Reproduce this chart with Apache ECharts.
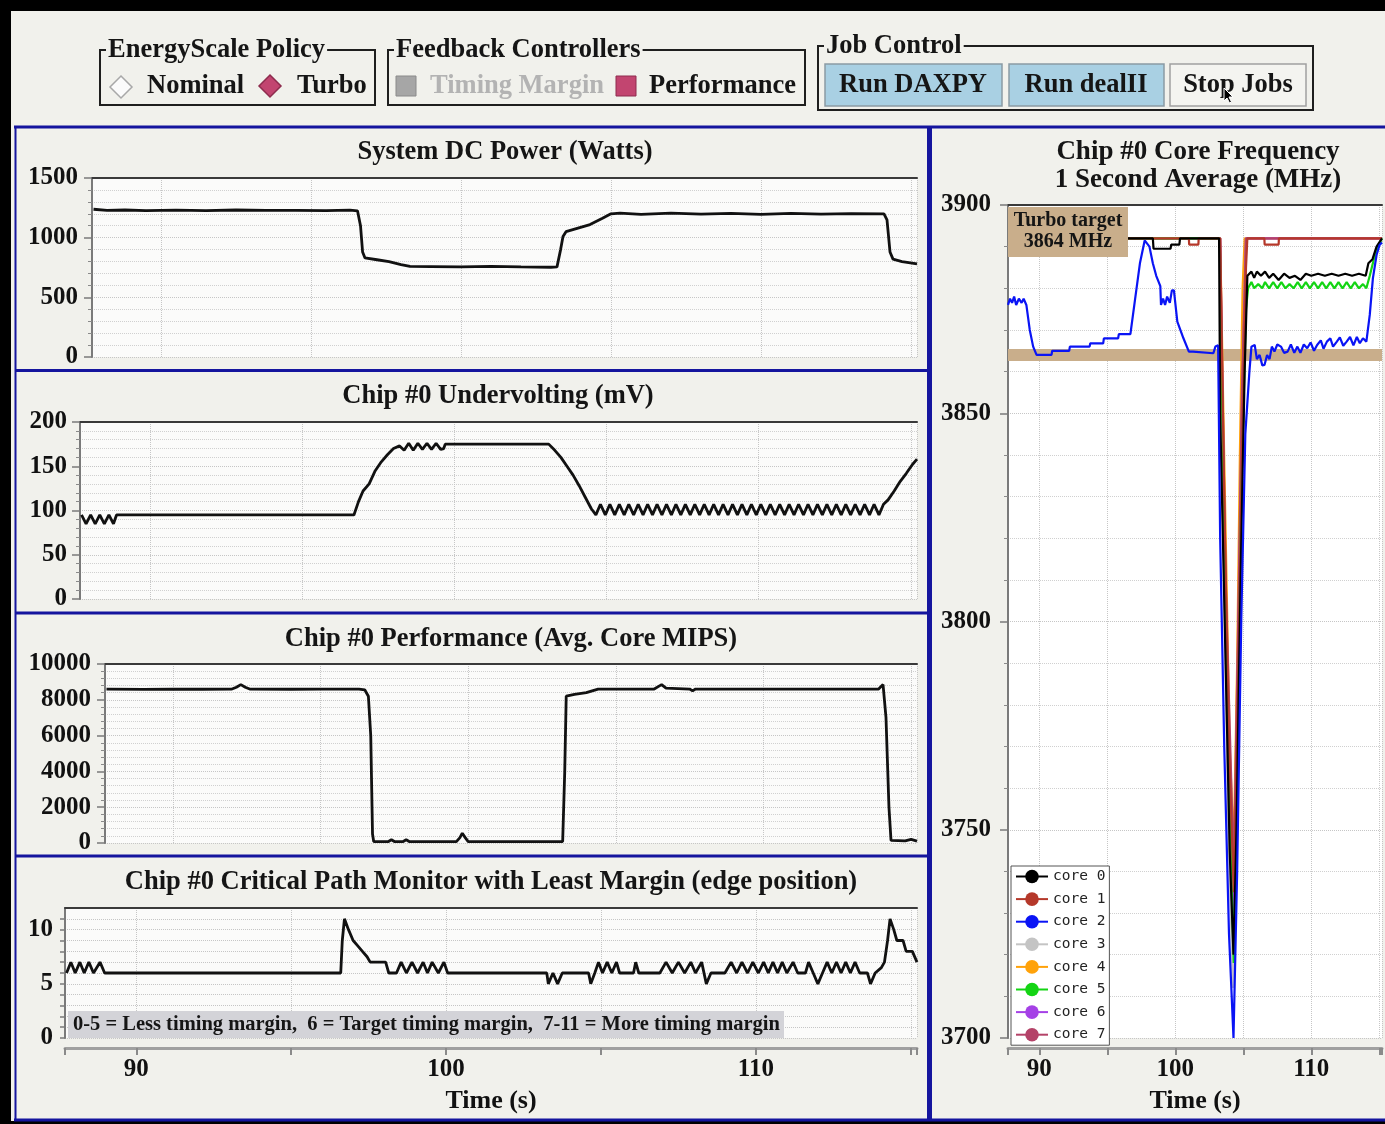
<!DOCTYPE html>
<html>
<head>
<meta charset="utf-8">
<script src="https://cdn.jsdelivr.net/npm/echarts@6/dist/echarts.min.js"></script>
<style>
  html, body { margin: 0; padding: 0; background: #f1f1ec; }
  #main { width: 1385px; height: 1124px; }
</style>
</head>
<body>
<div id="main"></div>
<script>
// shared time window (s) for every panel
const timeMin = 87.7
const timeMax = 115.2
const turboTarget = 3864

// System DC Power (Watts)
const dcPower = [[87.75,1238],[88.2,1228],[88.8,1232],[89.5,1226],[90.5,1230],[91.5,1227],[92.5,1232],[93.5,1228],
  [94.5,1229],[95.5,1226],[96.3,1230],[96.55,1225],[96.65,1100],[96.72,880],[96.8,830],[97.2,815],[97.6,800],
  [98.0,775],[98.3,760],[99,758],[100,755],[101,760],[102,755],[103,752],[103.2,755],[103.32,900],[103.4,1010],
  [103.5,1050],[103.9,1080],[104.3,1110],[104.7,1160],[105.0,1200],[105.3,1205],[106,1195],[107,1205],[108,1198],
  [109,1203],[110,1196],[111,1204],[112,1198],[113,1202],[114.1,1200],[114.2,1150],[114.3,880],[114.4,820],
  [114.7,800],[115.2,780]]

// Chip #0 Undervolting (mV)
const underVolt = [[87.75,95],[87.9,85],[88.05,95],[88.2,85],[88.35,95],[88.5,85],[88.65,95],[88.8,85],[88.9,95],
  [96.7,95],[96.85,110],[97.0,122],[97.2,130],[97.4,145],[97.6,155],[97.8,163],[98.0,170],[98.2,173],
  [98.35,168],[98.5,176],[98.65,168],[98.8,176],[98.95,169],[99.1,176],[99.25,169],[99.4,176],[99.55,169],
  [99.65,170],[99.7,175],[103.1,175],[103.3,168],[103.5,160],[103.7,150],[103.9,140],[104.1,128],[104.3,115],
  [104.5,102],[104.65,95],
  [104.80,107],[104.96,95],[105.11,107],[105.27,95],[105.42,107],[105.58,95],[105.73,107],[105.89,95],
  [106.04,107],[106.20,95],[106.35,107],[106.51,95],[106.66,107],[106.82,95],[106.97,107],[107.13,95],
  [107.28,107],[107.44,95],[107.59,107],[107.75,95],[107.90,107],[108.06,95],[108.21,107],[108.37,95],
  [108.52,107],[108.68,95],[108.83,107],[108.99,95],[109.14,107],[109.30,95],[109.45,107],[109.61,95],
  [109.76,107],[109.92,95],[110.07,107],[110.23,95],[110.38,107],[110.54,95],[110.69,107],[110.85,95],
  [111.00,107],[111.16,95],[111.31,107],[111.47,95],[111.62,107],[111.78,95],[111.93,107],[112.09,95],
  [112.24,107],[112.40,95],[112.55,107],[112.71,95],[112.86,107],[113.02,95],[113.17,107],[113.33,95],
  [113.48,107],[113.64,95],[113.79,107],[113.95,95],[114.10,107],
  [114.25,112],[114.45,122],[114.65,133],[114.85,142],[115.05,152],[115.2,158]]

// Chip #0 Performance (Avg. Core MIPS)
const coreMips = [[87.75,8600],[89,8580],[90,8600],[91,8590],[92.0,8600],[92.15,8700],[92.3,8850],[92.45,8700],
  [92.6,8600],[94,8590],[95,8600],[96.3,8600],[96.5,8550],[96.62,8200],[96.7,6000],[96.76,500],[96.8,80],
  [97.3,80],[97.4,180],[97.5,80],[97.8,80],[97.9,180],[98,80],[99.6,80],[99.72,300],[99.8,550],[99.9,300],
  [100.0,80],[100.3,80],[100.35,150],[100.4,80],[103.2,80],[103.27,4000],[103.32,8200],[103.6,8300],
  [104.0,8400],[104.4,8600],[106.3,8600],[106.45,8750],[106.55,8850],[106.7,8650],[107.5,8600],[107.6,8500],
  [107.7,8600],[113.9,8600],[114.05,8850],[114.15,7000],[114.25,2000],[114.32,150],[114.8,120],[115.0,200],
  [115.2,100]]

// Chip #0 Critical Path Monitor with Least Margin (edge position)
const cpmEdge = [[87.75,6],[87.89,7],[88.03,6],[88.18,7],[88.32,6],[88.47,7],[88.62,6],[88.83,7],[88.98,6],
  [96.6,6],[96.65,9],[96.72,11],[96.85,10],[97.0,9],[97.15,8.5],[97.3,8],[97.45,7.5],[97.55,7],[98.05,7],
  [98.15,6],[98.4,6],[98.55,7],[98.72,6],[98.9,7],[99.08,6],[99.26,7],[99.4,6],[99.55,7],[99.75,6],[99.93,7],
  [100.05,6],[103.25,6],[103.3,5],[103.45,6],[103.6,5],[103.75,6],[104.6,6],[104.67,5],[104.8,6],[104.92,7],
  [105.05,6],[105.2,7],[105.35,6],[105.5,7],[105.6,6],[106.05,6],[106.12,7],[106.22,6],[106.9,6],[107.1,7],
  [107.3,6],[107.5,7],[107.7,6],[107.9,7],[108.05,6],[108.25,7],[108.4,5],[108.55,6],[109.0,6],[109.2,7],
  [109.38,6],[109.55,7],[109.73,6],[109.9,7],[110.08,6],[110.25,7],[110.4,6],[110.55,7],[110.7,6],[110.85,7],
  [111.0,6],[111.2,7],[111.35,6],[111.6,6],[111.7,7],[111.85,6],[112.0,5],[112.15,6],[112.3,7],[112.45,6],
  [112.6,7],[112.75,6],[112.9,7],[113.05,6],[113.2,7],[113.35,6],[113.6,6],[113.7,5],[113.85,6],[114.05,6.5],
  [114.15,7],[114.25,9],[114.33,11],[114.45,10],[114.55,9],[114.75,9],[114.85,8],[115.05,8],[115.2,7]]

// Chip #0 Core Frequency, 1 s average (MHz)
const core0 = [[87.7,3892],[98.35,3892],[98.4,3889.5],[99.65,3889.5],[99.7,3890.5],[100.3,3890.5],[100.35,3892],
  [103.22,3892],[103.3,3850],[103.7,3790],[104.0,3745],[104.28,3720],[104.5,3750],[104.8,3810],[105.1,3860],
  [105.3,3883],[105.6,3884],[105.8,3882.5],[106.0,3884],[106.3,3883],[106.6,3884],[106.9,3882.5],[107.2,3883.5],
  [107.6,3882],[108.0,3883.5],[108.4,3882.5],[108.8,3883],[109.2,3882],[109.6,3883.5],[110.0,3883],
  [110.5,3883.5],[111,3883],[111.5,3883.5],[112,3883],[112.5,3883.5],[113,3883],[113.5,3883.5],[114.0,3883],
  [114.2,3886],[114.5,3887],[114.8,3890],[115.2,3892]]
const core1 = [[87.7,3892],[101.0,3892],[101.02,3890.5],[101.7,3890.5],[101.72,3892],[103.3,3892],[103.6,3830],
  [103.95,3770],[104.3,3735],[104.6,3780],[104.9,3840],[105.2,3885],[105.3,3892],[106.55,3892],[106.57,3890.5],
  [107.6,3890.5],[107.62,3892],[115.2,3892]]
const core2 = [[87.7,3876],[87.85,3877.5],[88.0,3876.5],[88.15,3878],[88.3,3876],[88.5,3877.5],[88.7,3876.5],
  [88.85,3877.5],[89.05,3876],[89.3,3870],[89.55,3866],[89.8,3864],[90.9,3864],[90.95,3865],[92.2,3865],
  [92.25,3866],[93.7,3866],[93.75,3866.8],[94.7,3866.8],[94.75,3868],[95.8,3868],[95.85,3869],[96.7,3869],
  [97.05,3877.5],[97.4,3886],[97.75,3891.5],[98.1,3890],[98.35,3886],[98.6,3883],[98.9,3880.5],[98.95,3876],
  [99.1,3877.5],[99.25,3876],[99.4,3878],[99.6,3876.5],[99.75,3879.5],[99.9,3879.5],[100.15,3872],[100.6,3868],
  [101.0,3864.8],[101.3,3864.8],[101.35,3864.4],[102.8,3864.4],[102.95,3866],[103.15,3866.3],[103.3,3820],
  [103.6,3770],[103.95,3725],[104.28,3700],[104.55,3740],[104.85,3800],[105.15,3845],[105.45,3860],[105.6,3866],
  [105.84,3866.4],[106.0,3863],[106.2,3864],[106.4,3861.5],[106.56,3861.6],[106.75,3864],[106.93,3863],
  [107.1,3866],[107.29,3864.8],[107.5,3866.5],[107.77,3866],[108.0,3864.5],[108.26,3864.8],[108.5,3866.5],
  [108.75,3864.5],[108.98,3866],[109.2,3864.5],[109.45,3866.5],[109.7,3865.6],[109.95,3867],[110.2,3865],
  [110.43,3866.4],[110.7,3867.5],[110.9,3865.5],[111.15,3867.2],[111.4,3868],[111.6,3866],[111.88,3867.2],
  [112.1,3868.2],[112.35,3866.2],[112.6,3867.2],[112.85,3868.3],[113.1,3866.3],[113.35,3868.3],[113.57,3866.8],
  [113.8,3868],[114.05,3867.2],[114.3,3873.6],[114.53,3882.4],[114.8,3888],[115.02,3890.4],[115.2,3891]]
const core3 = [[87.7,3892],[103.28,3892],[103.6,3810],[103.9,3750],[104.25,3712],[104.5,3760],[104.8,3830],
  [105.1,3880],[105.25,3892],[115.2,3892]]
const core4 = [[87.7,3892],[103.3,3892],[103.65,3830],[104.0,3770],[104.3,3745],[104.55,3790],[104.75,3840],
  [104.95,3880],[105.1,3892],[115.2,3892]]
const core5 = [[87.7,3892],[103.27,3892],[103.6,3820],[103.95,3760],[104.3,3718],[104.55,3760],[104.85,3830],
  [105.2,3875],[105.35,3880],[105.6,3881.5],[105.8,3880],[106.1,3881],[106.4,3880],[106.6,3881.5],[106.9,3880],
  [107.2,3881.5],[107.5,3880],[107.8,3881.5],[108.1,3880],[108.4,3881],[108.7,3880],[109.0,3881.5],[109.3,3880],
  [109.6,3881.5],[109.9,3880],[110.2,3881.5],[110.5,3880],[110.8,3881.5],[111.1,3880],[111.4,3881.5],[111.7,3880],
  [112.0,3881.5],[112.3,3880],[112.6,3881.5],[112.9,3880],[113.2,3881.5],[113.5,3880],[113.8,3881],[114.05,3880],
  [114.3,3883],[114.6,3887],[114.9,3890],[115.2,3892]]
const core6 = [[87.7,3892],[103.3,3892],[103.7,3800],[104.3,3730],[104.6,3790],[104.9,3850],[105.2,3892],[115.2,3892]]
const core7 = [[87.7,3892],[103.3,3892],[103.7,3810],[104.3,3740],[104.6,3795],[104.9,3855],[105.2,3892],[115.2,3892]]

const coreNames = ['core 0', 'core 1', 'core 2', 'core 3', 'core 4', 'core 5', 'core 6', 'core 7']
const coreColors = ['#000000', '#b5382a', '#0a14f5', '#c4c4c4', '#ffa20a', '#14d414', '#a541e6', '#b44268']
const coreData = [core0, core1, core2, core3, core4, core5, core6, core7]
// draw order: hidden cores first, then red, black, blue on top
const drawOrder = [3, 4, 6, 7, 5, 1, 0, 2]

const serif = '"Liberation Serif", "Times New Roman", serif'
const navy = '#15159e'
const bg = '#f1f1ec'

function bottomAxis(grid, labels) {
  return {
    type: 'value', gridIndex: grid, min: timeMin, max: timeMax,
    minInterval: 5, maxInterval: 5,
    position: 'bottom', offset: labels ? 10 : 0,
    axisLine: { show: labels, onZero: false, lineStyle: { color: '#a0a0a0', width: 3 } },
    axisTick: { show: labels, length: 7, lineStyle: { color: '#8a8a8a', width: 2 } },
    axisLabel: {
      show: labels, margin: 9, fontFamily: serif, fontWeight: 'bold', fontSize: 25, color: '#111',
      formatter: v => (Math.abs(v % 10) < 1e-6 ? String(v) : '')
    },
    splitLine: { show: true, lineStyle: { color: '#c6c6c6', type: 'dotted', width: 1 } },
    name: labels ? 'Time (s)' : '', nameLocation: 'middle', nameGap: 40,
    nameTextStyle: { fontFamily: serif, fontWeight: 'bold', fontSize: 26, color: '#111' }
  }
}

function topAxis(grid) {
  return {
    type: 'value', gridIndex: grid, position: 'top', min: timeMin, max: timeMax,
    axisLine: { show: true, onZero: false, lineStyle: { color: '#3a3a3a', width: 2 } },
    axisTick: { show: false }, axisLabel: { show: false }, splitLine: { show: false }
  }
}

function leftAxis(grid, min, max, interval, minorSplit, margin, labelEvery) {
  return {
    type: 'value', gridIndex: grid, min, max, interval,
    axisLine: { show: true, lineStyle: { color: '#7a7a7a', width: 2 } },
    axisTick: { show: true, length: labelEvery ? 5 : 8, lineStyle: { color: '#7a7a7a', width: 1.5 } },
    minorTick: { show: minorSplit > 0, splitNumber: minorSplit || 5, length: 4, lineStyle: { color: '#8a8a8a' } },
    axisLabel: {
      margin, fontFamily: serif, fontWeight: 'bold', fontSize: 25, color: '#111', showMaxLabel: !labelEvery,
      formatter: v => (labelEvery && v % labelEvery !== 0 ? '' : String(v))
    },
    splitLine: { show: true, lineStyle: { color: '#c6c6c6', type: 'dotted' } },
    minorSplitLine: { show: minorSplit > 0, lineStyle: { color: '#d0d0d0', type: 'dotted' } }
  }
}

function blackLine(name, data, grid) {
  return {
    name, type: 'line', data, xAxisIndex: grid * 2, yAxisIndex: grid,
    showSymbol: false, symbol: 'none', silent: true,
    lineStyle: { color: '#111', width: 2.8 }
  }
}

function hline(x1, x2, y, color, w) {
  return { type: 'line', z: 50, shape: { x1, y1: y, x2, y2: y }, style: { stroke: color, lineWidth: w } }
}
function vline(x, y1, y2, color, w) {
  return { type: 'line', z: 50, shape: { x1: x, y1, x2: x, y2 }, style: { stroke: color, lineWidth: w } }
}
function label(text, x, y, opts) {
  const o = opts || {}
  return {
    type: 'text', x, y, z: o.z || 60,
    style: {
      text, font: (o.weight || 'bold') + ' ' + (o.size || 26.5) + 'px ' + serif,
      fill: o.color || '#151515',
      align: o.align || 'left', textAlign: o.align || 'left',
      verticalAlign: 'middle', textVerticalAlign: 'middle',
      backgroundColor: o.bg, padding: o.bg ? [0, 2] : 0
    }
  }
}
function box(x, y, w, h, fill, stroke, lw, z) {
  return {
    type: 'rect', z: z || 40, shape: { x, y, width: w, height: h },
    style: { fill: fill || 'none', stroke: stroke || 'none', lineWidth: lw || 1 }
  }
}
function diamond(cx, cy, r, fill, stroke) {
  return {
    type: 'polygon', z: 60,
    shape: { points: [[cx, cy - r], [cx + r, cy], [cx, cy + r], [cx - r, cy]] },
    style: { fill, stroke, lineWidth: 1.5 }
  }
}

const grids = [
  { left: 92, top: 178, width: 825, height: 179 },
  { left: 80, top: 422, width: 837, height: 177 },
  { left: 105, top: 664, width: 812, height: 179 },
  { left: 65, top: 908, width: 852, height: 130 },
  { left: 1008, top: 205, width: 380, height: 833 }
].map((g, i) => Object.assign(g, {
  show: true, borderWidth: 0, backgroundColor: i === 4 ? '#ffffff' : '#fbfbfa'
}))

const xAxes = []
for (let g = 0; g < 5; g++) {
  xAxes.push(bottomAxis(g, g >= 3))
  xAxes.push(topAxis(g))
}

const yAxes = [
  leftAxis(0, 0, 1500, 500, 5, 14),
  leftAxis(1, 0, 200, 50, 5, 13),
  leftAxis(2, 0, 10000, 2000, 5, 14),
  leftAxis(3, 0, 12, 1, 0, 12, 5),
  leftAxis(4, 3700, 3900, 50, 5, 17)
]

const coreSeries = drawOrder.map(i => ({
  name: coreNames[i], type: 'line', data: coreData[i], xAxisIndex: 8, yAxisIndex: 4,
  showSymbol: false, symbol: 'circle', symbolSize: 12, silent: true,
  itemStyle: { color: coreColors[i] },
  lineStyle: { color: coreColors[i], width: 2.2 }
}))

const series = [
  blackLine('power', dcPower, 0),
  blackLine('undervolt', underVolt, 1),
  blackLine('mips', coreMips, 2),
  blackLine('cpm', cpmEdge, 3),
  {
    name: 'turbo', type: 'line', data: [], xAxisIndex: 8, yAxisIndex: 4, z: 1, silent: true,
    markArea: {
      silent: true, itemStyle: { color: '#c9ae8b' },
      data: [[{ yAxis: turboTarget - 1.45 }, { yAxis: turboTarget + 1.45 }]]
    }
  }
].concat(coreSeries)

const graphics = [
  // outer frame
  box(0, 0, 1385, 11, '#000', null, 1, 30),
  box(0, 0, 11, 1124, '#000', null, 1, 30),
  box(0, 1121, 1385, 3, '#000', null, 1, 30),
  hline(14, 1385, 127, navy, 3),
  vline(15.5, 127, 1121, navy, 2),
  vline(929.5, 127, 1121, navy, 5),
  hline(15, 928, 370.5, navy, 3),
  hline(15, 928, 613, navy, 3),
  hline(15, 928, 856, navy, 3),
  hline(14, 1385, 1120, navy, 3),

  // panel titles
  label('System DC Power (Watts)', 505, 152, { align: 'center' }),
  label('Chip #0 Undervolting (mV)', 498, 396, { align: 'center' }),
  label('Chip #0 Performance (Avg. Core MIPS)', 511, 639, { align: 'center' }),
  label('Chip #0 Critical Path Monitor with Least Margin (edge position)', 491, 882, { align: 'center' }),
  label('Chip #0 Core Frequency', 1198, 152, { align: 'center', size: 27 }),
  label('1 Second Average (MHz)', 1198, 180, { align: 'center', size: 27 }),

  // turbo target tag
  box(1008, 207, 120, 50, '#c9ae8b', null, 1, 100),
  label('Turbo target', 1068, 221, { align: 'center', size: 20, z: 101 }),
  label('3864 MHz', 1068, 242, { align: 'center', size: 20, z: 101 }),

  // timing margin note
  box(68, 1011, 716, 27, '#d3d3d8', null, 1, 100),
  label('0-5 = Less timing margin,  6 = Target timing margin,  7-11 = More timing margin', 73, 1025,
    { size: 20.5, z: 101 }),

  // EnergyScale Policy group
  box(100, 50, 275, 55, null, '#1e1e1e', 2),
  label('EnergyScale Policy', 106, 50, { bg: bg }),
  diamond(121, 87, 11, '#fbfbfb', '#a8a8a8'),
  label('Nominal', 147, 86),
  diamond(270, 86, 11, '#c24570', '#8e2c4e'),
  label('Turbo', 297, 86),

  // Feedback Controllers group
  box(388, 50, 417, 55, null, '#1e1e1e', 2),
  label('Feedback Controllers', 394, 50, { bg: bg }),
  box(396, 76, 20, 20, '#a6a6a6', '#8a8a8a', 1, 60),
  label('Timing Margin', 430, 86, { color: '#b3b3b3' }),
  box(616, 76, 20, 20, '#c24570', '#8e2c4e', 1, 60),
  label('Performance', 649, 86),

  // Job Control group
  box(818, 46, 495, 64, null, '#1e1e1e', 2),
  label('Job Control', 824, 46, { bg: bg }),
  box(825, 64, 177, 42, '#a9d0e3', '#8a9aa4', 1.5, 55),
  label('Run DAXPY', 913, 85, { align: 'center' }),
  box(1009, 64, 155, 42, '#a9d0e3', '#8a9aa4', 1.5, 55),
  label('Run dealII', 1086, 85, { align: 'center' }),
  box(1170, 64, 136, 42, '#f4f4f0', '#a0a0a0', 1.5, 55),
  label('Stop Jobs', 1238, 85, { align: 'center' }),
  {
    type: 'polygon', z: 70,
    shape: { points: [[1224, 88], [1224, 101], [1227, 98], [1229.5, 103], [1231.5, 102], [1229, 97], [1233, 97]] },
    style: { fill: '#000', stroke: '#fff', lineWidth: 1 }
  }
]

const chart = echarts.init(document.getElementById('main'), null, { renderer: 'canvas' })
chart.setOption({
  animation: false,
  backgroundColor: bg,
  grid: grids,
  xAxis: xAxes,
  yAxis: yAxes,
  legend: {
    data: coreNames, orient: 'vertical', left: 1011, top: 866,
    itemWidth: 32, itemHeight: 17, itemGap: 7.6,
    backgroundColor: '#ffffff', borderColor: '#555', borderWidth: 1, borderRadius: 0,
    padding: [3, 4, 3, 4], selectedMode: false,
    textStyle: { fontFamily: '"DejaVu Sans Mono", monospace', fontSize: 14.5, color: '#222' }
  },
  series,
  graphic: { elements: graphics }
})
</script>
</body>
</html>
